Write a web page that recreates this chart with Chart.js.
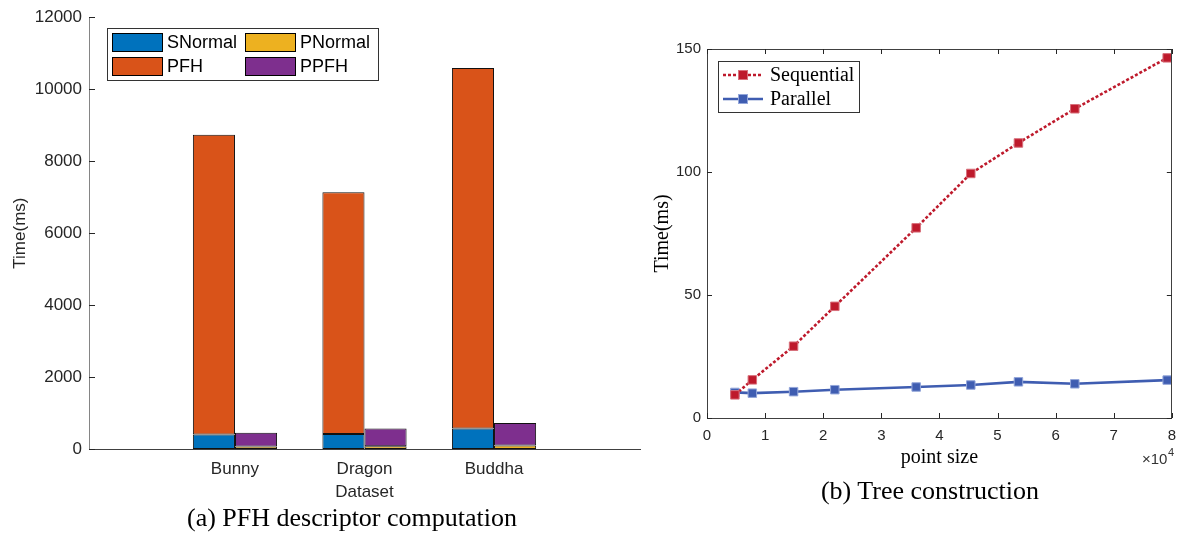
<!DOCTYPE html>
<html><head><meta charset="utf-8">
<script src="https://cdn.jsdelivr.net/npm/chart.js@4/dist/chart.umd.min.js"></script>
<style>
html,body{margin:0;padding:0;background:#fff;width:1185px;height:534px;overflow:hidden;}
#wrapA{position:absolute;left:0;top:0;width:645px;height:534px;}
#wrapB{position:absolute;left:640px;top:0;width:545px;height:534px;}
.cap{position:absolute;font-family:"Liberation Serif","Times New Roman",serif;font-size:26px;color:#000;white-space:nowrap;transform:translate(-50%,-50%);}
</style></head><body>
<div id="wrapA"><canvas id="chartA"></canvas></div>
<div id="wrapB"><canvas id="chartB"></canvas></div>
<div class="cap" style="left:352px;top:518px">(a) PFH descriptor computation</div>
<div class="cap" style="left:930px;top:491px">(b) Tree construction</div>
<script>
// ---------- data: chart (a) ----------
const categories = ['Bunny', 'Dragon', 'Buddha'];
const sNormal = [405, 415, 570];
const pNormal = [70, 75, 95];
const pfh = [8330, 6720, 10020];
const ppfh = [380, 497, 625];
const yTicksA = [0, 2000, 4000, 6000, 8000, 10000, 12000];

// ---------- data: chart (b) ----------
const pointSize = [4800, 7800, 14900, 22000, 36000, 45400, 53600, 63300, 79200];
const sequential = [9.4, 15.5, 29.2, 45.4, 77.3, 99.4, 111.8, 125.7, 146.4];
const parallel = [10.4, 10.1, 10.7, 11.5, 12.6, 13.4, 14.7, 13.9, 15.4];
const xTicksB = [0, 10000, 20000, 30000, 40000, 50000, 60000, 70000, 80000];
const yTicksB = [0, 50, 100, 150];

const F_SANS = '"Liberation Sans", Arial, sans-serif';
const F_SERIF = '"Liberation Serif", "Times New Roman", serif';
const AX = '#262626';

const catXY = arr => arr.map((v, i) => ({x: i + 1, y: v}));
const ptXY = arr => arr.map((v, i) => ({x: pointSize[i], y: v}));

// inner ticks + box plugin
const innerTicks = {
  id: 'innerTicks',
  afterDraw(chart, args, o) {
    const {ctx, chartArea: a} = chart;
    const len = o.len || 5;
    ctx.save();
    ctx.lineWidth = 1;
    if (o.box) {
      ctx.strokeStyle = o.boxColor || AX;
      ctx.beginPath();
      ctx.moveTo(a.left, Math.round(a.top) + 0.5); ctx.lineTo(a.right, Math.round(a.top) + 0.5);
      ctx.moveTo(Math.round(a.right) - 0.5, a.top); ctx.lineTo(Math.round(a.right) - 0.5, a.bottom);
      ctx.stroke();
    }
    ctx.strokeStyle = o.color || AX;
    ctx.beginPath();
    const ys = chart.scales.y;
    ys.ticks.forEach(t => {
      const p = Math.round(ys.getPixelForValue(t.value)) + 0.5;
      ctx.moveTo(a.left, p); ctx.lineTo(a.left + len, p);
      if (o.box) { ctx.moveTo(a.right, p); ctx.lineTo(a.right - len, p); }
    });
    if (o.xticks) {
      const xs = chart.scales.x;
      xs.ticks.forEach(t => {
        const p = Math.round(xs.getPixelForValue(t.value)) + 0.5;
        ctx.moveTo(p, a.bottom); ctx.lineTo(p, a.bottom - len);
        if (o.box) { ctx.moveTo(p, a.top); ctx.lineTo(p, a.top + len); }
      });
    }
    ctx.stroke();
    ctx.restore();
  }
};

const legendA = {
  id: 'legendA',
  afterDraw(chart) {
    const ctx = chart.ctx;
    ctx.save();
    ctx.fillStyle = '#fff';
    ctx.fillRect(107, 28, 271, 52);
    ctx.strokeStyle = '#333'; ctx.lineWidth = 1;
    ctx.strokeRect(107.5, 28.5, 271, 52);
    const pos = [[112, 33], [245, 33], [112, 57], [245, 57]];
    chart.data.datasets.forEach((ds, i) => {
      const [x, y] = pos[i];
      ctx.fillStyle = ds.backgroundColor;
      ctx.fillRect(x, y, 50, 18);
      ctx.strokeStyle = '#000';
      ctx.strokeRect(x + 0.5, y + 0.5, 50, 18);
      ctx.fillStyle = '#000';
      ctx.font = '18px ' + F_SANS;
      ctx.textBaseline = 'middle';
      ctx.fillText(ds.label, x + 55, y + 10);
    });
    ctx.restore();
  }
};

const legendB = {
  id: 'legendB',
  afterDraw(chart) {
    const ctx = chart.ctx;
    ctx.save();
    ctx.fillStyle = '#fff';
    ctx.fillRect(78, 61, 141, 51);
    ctx.strokeStyle = '#333'; ctx.lineWidth = 1;
    ctx.strokeRect(78.5, 61.5, 141, 51);
    const rows = [75, 99];
    chart.data.datasets.forEach((ds, i) => {
      const y = rows[i];
      ctx.strokeStyle = ds.borderColor;
      ctx.lineWidth = ds.borderWidth;
      ctx.setLineDash(ds.borderDash || []);
      ctx.beginPath(); ctx.moveTo(83, y); ctx.lineTo(123, y); ctx.stroke();
      ctx.setLineDash([]);
      ctx.fillStyle = ds.pointBackgroundColor;
      ctx.strokeStyle = ds.pointBorderColor;
      ctx.lineWidth = 1;
      ctx.fillRect(99, y - 4, 8, 8);
      ctx.strokeRect(98.5, y - 4.5, 9, 9);
      ctx.fillStyle = '#000';
      ctx.font = '20px ' + F_SERIF;
      ctx.textBaseline = 'middle';
      ctx.fillText(ds.label, 130, y + 1);
    });
    // x10^4 exponent label
    ctx.fillStyle = '#333';
    ctx.font = '15px ' + F_SANS;
    ctx.textBaseline = 'alphabetic';
    ctx.fillText('\u00d710', 502, 464);
    ctx.font = '11px ' + F_SANS;
    ctx.fillText('4', 528, 456);
    ctx.restore();
  }
};

Chart.defaults.font.family = F_SANS;
Chart.defaults.color = AX;

new Chart(document.getElementById('chartA'), {
  type: 'bar',
  data: {
    datasets: [
      {label: 'SNormal', data: catXY(sNormal), backgroundColor: '#0072BD', stack: 's'},
      {label: 'PNormal', data: catXY(pNormal), backgroundColor: '#EDB120', stack: 'p'},
      {label: 'PFH', data: catXY(pfh), backgroundColor: '#D95319', stack: 's'},
      {label: 'PPFH', data: catXY(ppfh), backgroundColor: '#7E2F8E', stack: 'p'}
    ].map(d => Object.assign(d, {borderColor: '#111', borderWidth: 1, borderSkipped: false,
      categoryPercentage: 0.65, barPercentage: 1}))
  },
  options: {
    responsive: true, maintainAspectRatio: false, animation: false,
    layout: {padding: {top: 15, right: 5, left: 0, bottom: 0}},
    plugins: {legend: {display: false}, tooltip: {enabled: false},
      innerTicks: {len: 6, color: AX, box: false, xticks: false}},
    scales: {
      x: {
        type: 'linear', min: -0.127, max: 4.127, offset: false,
        afterBuildTicks: s => { s.ticks = categories.map((c, i) => ({value: i + 1})); },
        ticks: {callback: v => categories[v - 1], font: {size: 17}, color: AX, padding: 10, autoSkip: false, maxRotation: 0},
        grid: {display: false, drawTicks: false},
        border: {display: true, color: '#404040', width: 1},
        title: {display: true, text: 'Dataset', font: {size: 17}, color: AX, padding: {top: 0, bottom: 31.8}},
        afterFit: s => { s.height = 85; }
      },
      y: {
        stacked: true, min: 0, max: 12000,
        afterBuildTicks: s => { s.ticks = yTicksA.map(v => ({value: v})); },
        ticks: {callback: v => String(v), font: {size: 17}, color: AX, padding: 7},
        grid: {display: false, drawTicks: false},
        border: {display: true, color: '#858585', width: 1},
        title: {display: true, text: 'Time(ms)', font: {size: 17}, color: AX, padding: {top: 9.8, bottom: 0}},
        afterFit: s => { s.width = 89; }
      }
    }
  },
  plugins: [innerTicks, legendA]
});

new Chart(document.getElementById('chartB'), {
  type: 'line',
  data: {
    datasets: [
      {label: 'Sequential', data: ptXY(sequential), borderColor: '#BE1A2C', borderWidth: 2.6, borderDash: [3, 2],
        pointStyle: 'rect', pointRadius: 6, pointBackgroundColor: '#BE1A2C', pointBorderColor: '#d8707b', pointBorderWidth: 1},
      {label: 'Parallel', data: ptXY(parallel), borderColor: '#3F5DB1', borderWidth: 2.6,
        pointStyle: 'rect', pointRadius: 6, pointBackgroundColor: '#3F5DB1', pointBorderColor: '#93a6da', pointBorderWidth: 1}
    ].map(d => Object.assign(d, {tension: 0, fill: false}))
  },
  options: {
    responsive: true, maintainAspectRatio: false, animation: false,
    layout: {padding: {top: 49, right: 12, left: 0, bottom: 0}},
    plugins: {legend: {display: false}, tooltip: {enabled: false},
      innerTicks: {len: 5, color: AX, box: true, boxColor: '#404040', xticks: true}},
    scales: {
      x: {
        type: 'linear', min: 0, max: 80000, offset: false,
        afterBuildTicks: s => { s.ticks = xTicksB.map(v => ({value: v})); },
        ticks: {callback: v => String(v / 10000), font: {size: 15}, color: AX, padding: 9, autoSkip: false, maxRotation: 0},
        grid: {display: false, drawTicks: false},
        border: {display: true, color: '#404040', width: 1},
        title: {display: true, text: 'point size', font: {size: 20, family: F_SERIF}, color: '#000', padding: {top: 0, bottom: 64}},
        afterFit: s => { s.height = 116; }
      },
      y: {
        min: 0, max: 150,
        afterBuildTicks: s => { s.ticks = yTicksB.map(v => ({value: v})); },
        ticks: {callback: v => String(v), font: {size: 15}, color: AX, padding: 6},
        grid: {display: false, drawTicks: false},
        border: {display: true, color: '#404040', width: 1},
        title: {display: true, text: 'Time(ms)', font: {size: 20, family: F_SERIF}, color: '#000', padding: {top: 11, bottom: 0}},
        afterFit: s => { s.width = 67; }
      }
    }
  },
  plugins: [innerTicks, legendB]
});
</script>
</body></html>
